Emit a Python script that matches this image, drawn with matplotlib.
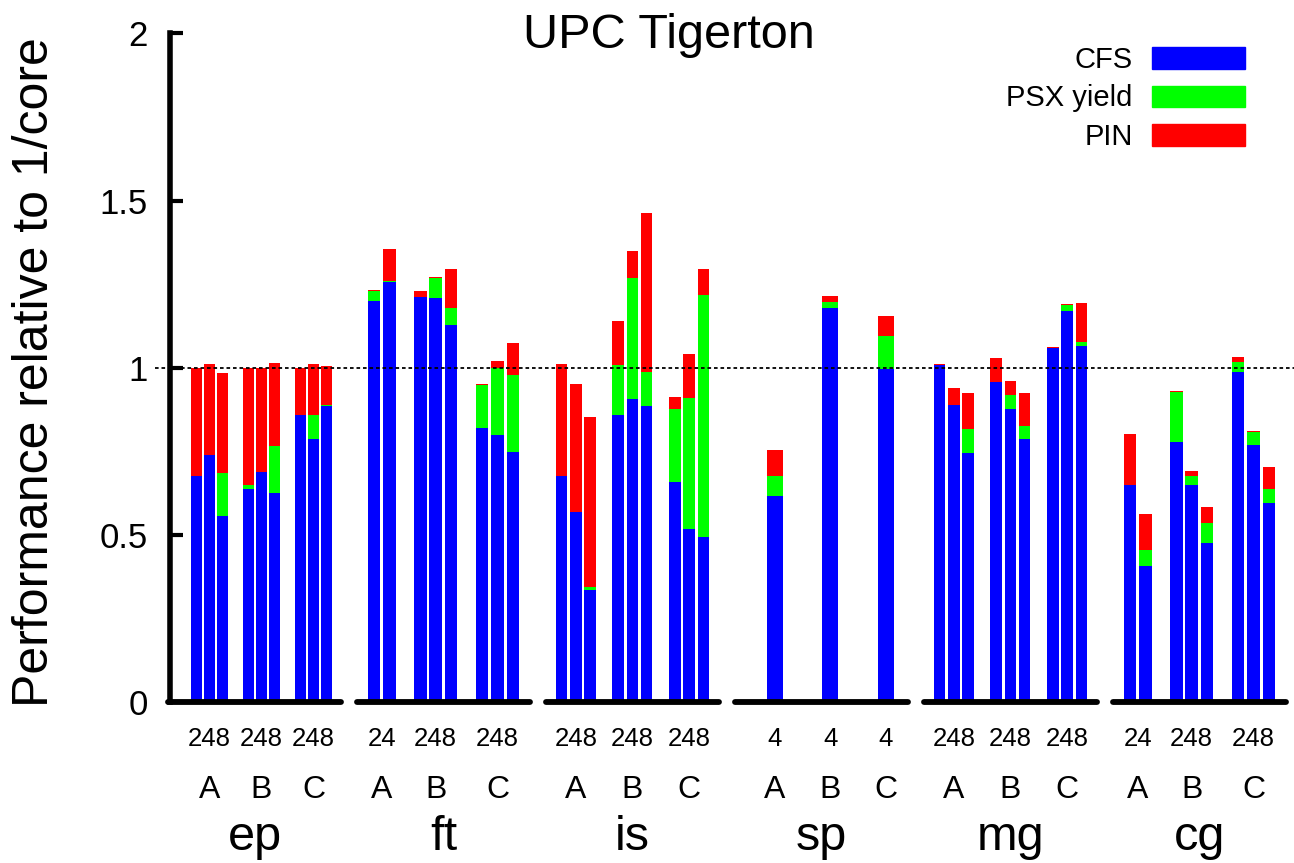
import matplotlib.pyplot as plt
from matplotlib.patches import Patch

plt.rcParams['font.family'] = ['Liberation Sans', 'DejaVu Sans']

# benchmarks, classes and the thread counts shown under each class
groups = ['ep', 'ft', 'is', 'sp', 'mg', 'cg']
classes = ['A', 'B', 'C']
threads = {
    'ep': ['248', '248', '248'],
    'ft': ['24', '248', '248'],
    'is': ['248', '248', '248'],
    'sp': ['4', '4', '4'],
    'mg': ['248', '248', '248'],
    'cg': ['24', '248', '248'],
}

# performance relative to 1/core, per class, per thread count
ep_cfs = [[0.677, 0.738, 0.556], [0.638, 0.688, 0.625], [0.858, 0.788, 0.885]]
ep_psx = [[0.677, 0.738, 0.686], [0.648, 0.688, 0.767], [0.858, 0.858, 0.888]]
ep_pin = [[1.000, 1.011, 0.984], [1.000, 1.000, 1.014], [1.000, 1.011, 1.004]]

ft_cfs = [[1.200, 1.257], [1.211, 1.209, 1.128], [0.819, 0.799, 0.747]]
ft_psx = [[1.228, 1.259], [1.211, 1.267, 1.178], [0.949, 0.998, 0.977]]
ft_pin = [[1.232, 1.354], [1.230, 1.272, 1.294], [0.950, 1.020, 1.073]]

is_cfs = [[0.677, 0.568, 0.335], [0.858, 0.907, 0.886], [0.658, 0.517, 0.495]]
is_psx = [[0.677, 0.568, 0.345], [1.007, 1.268, 0.986], [0.876, 0.908, 1.217]]
is_pin = [[1.011, 0.950, 0.853], [1.141, 1.350, 1.464], [0.911, 1.040, 1.294]]

sp_cfs = [[0.616], [1.178], [0.997]]
sp_psx = [[0.675], [1.197], [1.096]]
sp_pin = [[0.754], [1.215], [1.154]]

mg_cfs = [[1.008, 0.888, 0.746], [0.958, 0.877, 0.787], [1.059, 1.169, 1.066]]
mg_psx = [[1.008, 0.888, 0.817], [0.958, 0.917, 0.826], [1.059, 1.188, 1.077]]
mg_pin = [[1.011, 0.939, 0.923], [1.030, 0.961, 0.923], [1.061, 1.191, 1.194]]

cg_cfs = [[0.648, 0.407], [0.777, 0.648, 0.475], [0.988, 0.768, 0.596]]
cg_psx = [[0.648, 0.456], [0.926, 0.677, 0.535], [1.018, 0.808, 0.636]]
cg_pin = [[0.801, 0.562], [0.931, 0.690, 0.582], [1.031, 0.811, 0.704]]

cfs = {'ep': ep_cfs, 'ft': ft_cfs, 'is': is_cfs, 'sp': sp_cfs, 'mg': mg_cfs, 'cg': cg_cfs}
psx = {'ep': ep_psx, 'ft': ft_psx, 'is': is_psx, 'sp': sp_psx, 'mg': mg_psx, 'cg': cg_psx}
pin = {'ep': ep_pin, 'ft': ft_pin, 'is': is_pin, 'sp': sp_pin, 'mg': mg_pin, 'cg': cg_pin}

yticks = [0, 0.5, 1, 1.5, 2]
yticklabels = ['0', '0.5', '1', '1.5', '2']

BLUE, GREEN, RED = '#0000ff', '#00ff00', '#ff0000'

# layout (pixel-like x units)
W, H = 1294, 863
x0, y0 = 170, 161
unit = 334.3
fig = plt.figure(figsize=(W / 100, H / 100), dpi=100)
ax = fig.add_axes([x0 / W, y0 / H, (W - x0) / W, 2 * unit / H])
ax.set_xlim(x0, W)
ax.set_ylim(0, 2)

first_left, group_step, seg_len = 167.7, 189, 173.5
pad_left = [14, 0, 0, 9, 0, 0]
pad_right = [0, 0, 0, 9, 0, 0]


def yv(ypix):
    # pixel row (from top) -> data value
    return (702 - ypix) / unit


for g, name in enumerate(groups):
    seg_l = first_left + g * group_step
    seg_r = seg_l + seg_len
    ax.plot([seg_l, seg_r], [0, 0], color='black', lw=4.2,
            solid_capstyle='round', clip_on=False, zorder=6)

    zl, zr = seg_l + pad_left[g], seg_r + pad_right[g]
    nbars = [len(t) for t in threads[name]]
    nslots = sum(nbars) + len(nbars) - 1
    pitch = (zr - zl) / (nslots + 1.24)
    width = min(0.82 * pitch, 16)
    centre = (zl + zr) / 2

    slot = 0
    for c, cls in enumerate(classes):
        xs = [centre + (slot + i - (nslots - 1) / 2) * pitch for i in range(nbars[c])]
        slot += nbars[c] + 1
        ax.bar(xs, pin[name][c], width, color=RED, lw=0, zorder=2)
        ax.bar(xs, psx[name][c], width, color=GREEN, lw=0, zorder=3)
        ax.bar(xs, cfs[name][c], width, color=BLUE, lw=0, zorder=4)
        xc = sum(xs) / len(xs)
        ax.text(xc, yv(746), threads[name][c], ha='center', va='baseline',
                fontsize=18.5, clip_on=False)
        ax.text(xc, yv(798), cls, ha='center', va='baseline',
                fontsize=23, clip_on=False)
    ax.text((seg_l + seg_r) / 2, yv(850), name, ha='center', va='baseline',
            fontsize=35, clip_on=False)

ax.plot([155, W], [1, 1], color='black', lw=1.3, ls=(0, (2, 1.6)),
        clip_on=False, zorder=7)

for s in ['top', 'right', 'bottom']:
    ax.spines[s].set_visible(False)
ax.spines['left'].set_linewidth(4)
ax.set_xticks([])
ax.set_yticks(yticks)
ax.set_yticklabels(yticklabels)
ax.tick_params(axis='y', direction='in', length=9, width=3, pad=16,
               labelsize=25)

fig.text(35 / W, 1 - 372 / H, 'Performance relative to 1/core', rotation=90,
         ha='center', va='center', fontsize=36)
fig.text(669 / W, 1 - 36 / H, 'UPC Tigerton', ha='center', va='center',
         fontsize=35)

handles = [Patch(color=BLUE), Patch(color=GREEN), Patch(color=RED)]
ax.legend(handles, ['CFS', 'PSX yield', 'PIN'], loc='upper right',
          bbox_to_anchor=(1245 / W, 1 - 46 / H), bbox_transform=fig.transFigure,
          frameon=False, markerfirst=False, fontsize=21, handlelength=3.2,
          handleheight=0.75, handletextpad=0.65, labelspacing=0.36,
          borderpad=0, borderaxespad=0)

fig.savefig('out.png', dpi=100)
